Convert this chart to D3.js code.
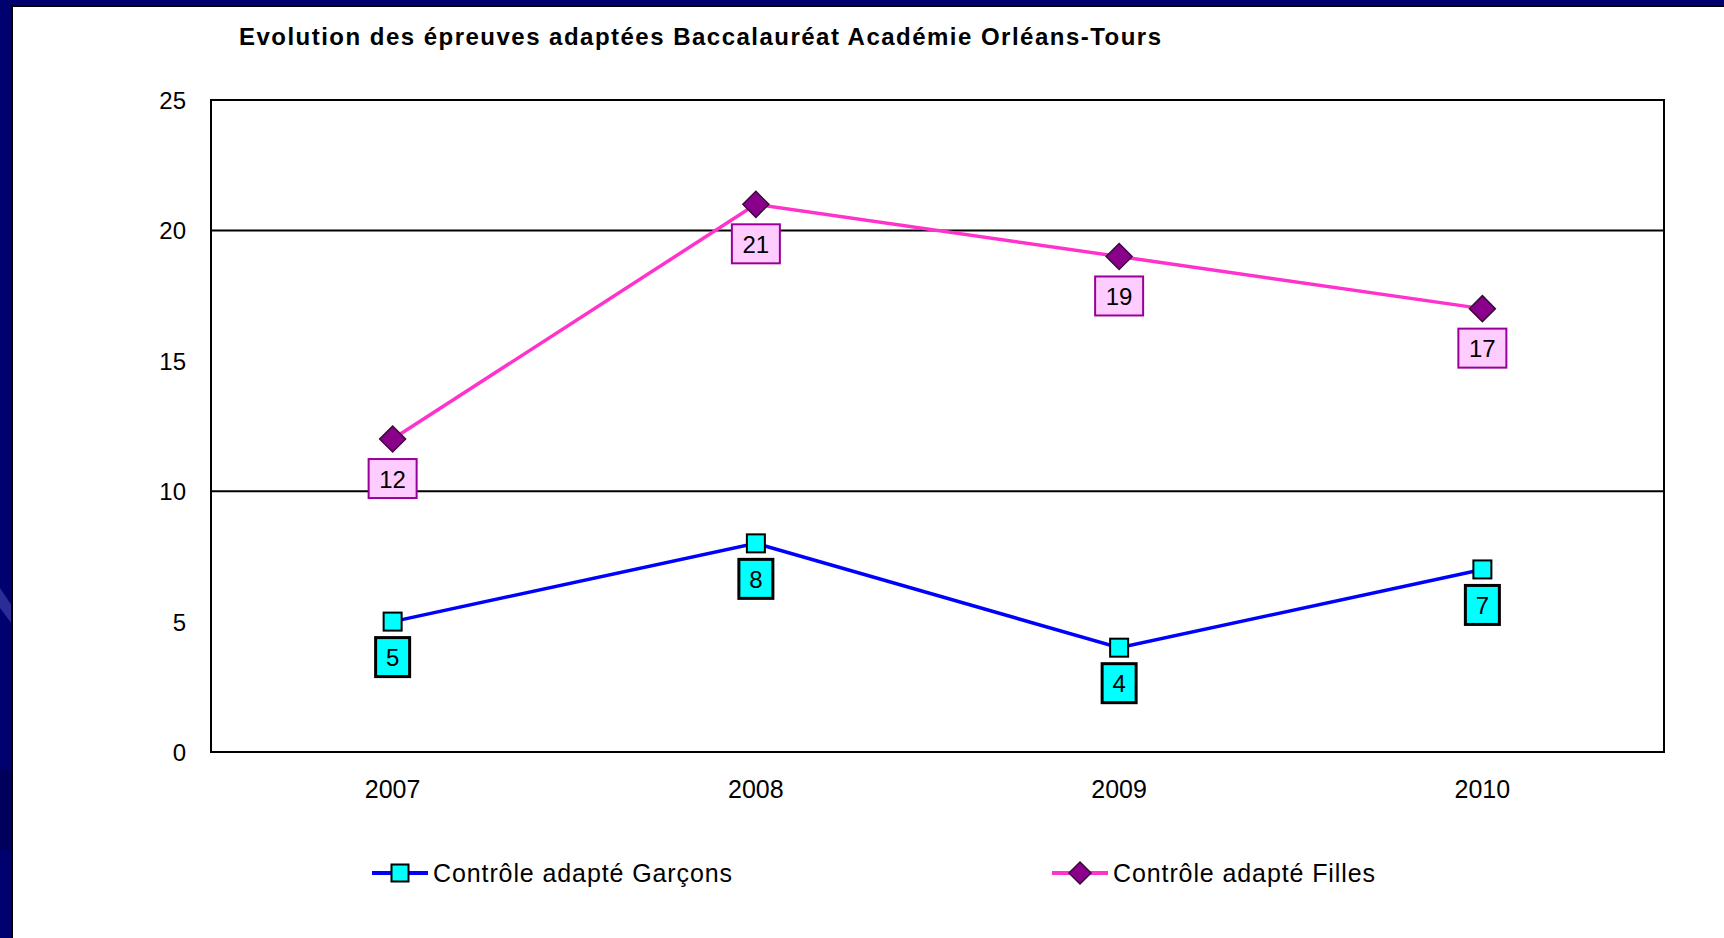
<!DOCTYPE html>
<html>
<head>
<meta charset="utf-8">
<script src="https://cdn.jsdelivr.net/npm/d3@7"></script>
<style>
  body { margin: 0; background: #ffffff; }
  text { font-family: "Liberation Sans", Arial, sans-serif; fill: #000; }
</style>
</head>
<body>
<div id="vis"></div>
<script>
const years = ["2007", "2008", "2009", "2010"];
const garcons = [5, 8, 4, 7];
const filles = [12, 21, 19, 17];
const yTicks = [0, 5, 10, 15, 20, 25];
const gridValues = [10, 20];

const WIDTH = 1724;
const HEIGHT = 938;
const PLOT = { LEFT: 211, RIGHT: 1664, TOP: 100, BOTTOM: 752 };

const series = [
  { name: "Contrôle adapté Garçons", values: garcons, line: "#0000ff", shape: "square",
    fill: "#00ffff", stroke: "#000", boxFill: "#00ffff", boxStroke: "#000", boxWidth: 3,
    legendX: 372, textLen: 299 },
  { name: "Contrôle adapté Filles", values: filles, line: "#ff33cc", shape: "diamond",
    fill: "#8b008b", stroke: "#3a0a3a", boxFill: "#ffccff", boxStroke: "#990099", boxWidth: 2,
    legendX: 1052, textLen: 262 },
];

const svg = d3
  .select("#vis")
  .append("svg")
  .attr("width", WIDTH)
  .attr("height", HEIGHT);

svg.append("rect").attr("width", WIDTH).attr("height", HEIGHT).attr("fill", "#fff");

// slide frame (navy border on left and top)
svg.append("rect").attr("x", 0).attr("y", 0).attr("width", 12).attr("height", HEIGHT).attr("fill", "#00006e");
svg.append("rect").attr("x", 0).attr("y", 0).attr("width", WIDTH).attr("height", 5).attr("fill", "#00006e");
svg.append("polygon").attr("points", "0,588 12,606 12,624 0,608").attr("fill", "#2c2c96");
svg.append("rect").attr("x", 0).attr("y", 770).attr("width", 12).attr("height", 80).attr("fill", "#00005c");
svg.append("rect").attr("x", 11).attr("y", 5).attr("width", 2).attr("height", HEIGHT).attr("fill", "#000");
svg.append("rect").attr("x", 11).attr("y", 5).attr("width", WIDTH).attr("height", 2).attr("fill", "#000");

// scales
const x = d3.scaleBand().domain(years).range([PLOT.LEFT, PLOT.RIGHT]).padding(0);
const y = d3.scaleLinear().domain([0, 25]).range([PLOT.BOTTOM, PLOT.TOP]);
const cx = (d) => x(d) + x.bandwidth() / 2;

// title
svg
  .append("text")
  .attr("x", 239)
  .attr("y", 36)
  .attr("dominant-baseline", "central")
  .attr("font-size", 24)
  .attr("font-weight", "bold")
  .attr("textLength", 922)
  .attr("lengthAdjust", "spacing")
  .text("Evolution des épreuves adaptées Baccalauréat Académie Orléans-Tours");

// gridlines
svg
  .append("g")
  .selectAll("line")
  .data(gridValues)
  .enter()
  .append("line")
  .attr("x1", PLOT.LEFT)
  .attr("x2", PLOT.RIGHT)
  .attr("y1", (d) => y(d))
  .attr("y2", (d) => y(d))
  .attr("stroke", "#000")
  .attr("stroke-width", 2);

// plot frame
svg
  .append("rect")
  .attr("x", PLOT.LEFT)
  .attr("y", PLOT.TOP)
  .attr("width", PLOT.RIGHT - PLOT.LEFT)
  .attr("height", PLOT.BOTTOM - PLOT.TOP)
  .attr("fill", "none")
  .attr("stroke", "#000")
  .attr("stroke-width", 2);

// y axis labels
const yAxis = svg
  .append("g")
  .attr("transform", `translate(${PLOT.LEFT}, 0)`)
  .call(d3.axisLeft(y).tickValues(yTicks).tickSize(0).tickPadding(25));
yAxis.select(".domain").remove();
yAxis.selectAll("text").attr("font-size", 24).attr("font-family", "Liberation Sans, Arial, sans-serif").attr("dy", "0.35em");

// x axis labels
const xAxis = svg
  .append("g")
  .attr("transform", `translate(0, ${PLOT.BOTTOM})`)
  .call(d3.axisBottom(x).tickSize(0).tickPadding(28));
xAxis.select(".domain").remove();
xAxis.selectAll("text").attr("font-size", 25).attr("font-family", "Liberation Sans, Arial, sans-serif");

function drawMarker(g, shape, px, py, fill, stroke, big) {
  if (shape === "square") {
    const s = big ? 18 : 17;
    g.append("rect")
      .attr("x", px - s / 2)
      .attr("y", py - s / 2)
      .attr("width", s)
      .attr("height", s)
      .attr("fill", fill)
      .attr("stroke", stroke)
      .attr("stroke-width", 2);
  } else {
    const r = big ? 13 : 11;
    g.append("path")
      .attr("d", `M${px},${py - r}L${px + r},${py}L${px},${py + r}L${px - r},${py}Z`)
      .attr("fill", fill)
      .attr("stroke", stroke)
      .attr("stroke-width", 1.5);
  }
}

series.forEach((s) => {
  const g = svg.append("g");
  const line = d3
    .line()
    .x((d, i) => cx(years[i]))
    .y((d) => y(d));

  g.append("path")
    .attr("d", line(s.values))
    .attr("fill", "none")
    .attr("stroke", s.line)
    .attr("stroke-width", 3.5);

  s.values.forEach((v, i) => {
    drawMarker(g, s.shape, cx(years[i]), y(v), s.fill, s.stroke, true);
  });

  // data labels
  const half = s.shape === "square" ? 9 : 13;
  s.values.forEach((v, i) => {
    const px = cx(years[i]);
    const top = y(v) + half + 7;
    const txt = String(v);
    const w = txt.length * 14 + 20;
    g.append("rect")
      .attr("x", px - w / 2)
      .attr("y", top)
      .attr("width", w)
      .attr("height", 39)
      .attr("fill", s.boxFill)
      .attr("stroke", s.boxStroke)
      .attr("stroke-width", s.boxWidth);
    g.append("text")
      .attr("x", px)
      .attr("y", top + 20)
      .attr("text-anchor", "middle")
      .attr("dominant-baseline", "central")
      .attr("font-size", 24)
      .text(txt);
  });

  // legend
  const ly = 873;
  const lg = svg.append("g");
  lg.append("line")
    .attr("x1", s.legendX)
    .attr("x2", s.legendX + 56)
    .attr("y1", ly)
    .attr("y2", ly)
    .attr("stroke", s.line)
    .attr("stroke-width", 4);
  drawMarker(lg, s.shape, s.legendX + 28, ly, s.fill, s.stroke, false);
  lg.append("text")
    .attr("x", s.legendX + 61)
    .attr("y", ly)
    .attr("dominant-baseline", "central")
    .attr("font-size", 25)
    .attr("textLength", s.textLen)
    .attr("lengthAdjust", "spacing")
    .text(s.name);
});
</script>
</body>
</html>
